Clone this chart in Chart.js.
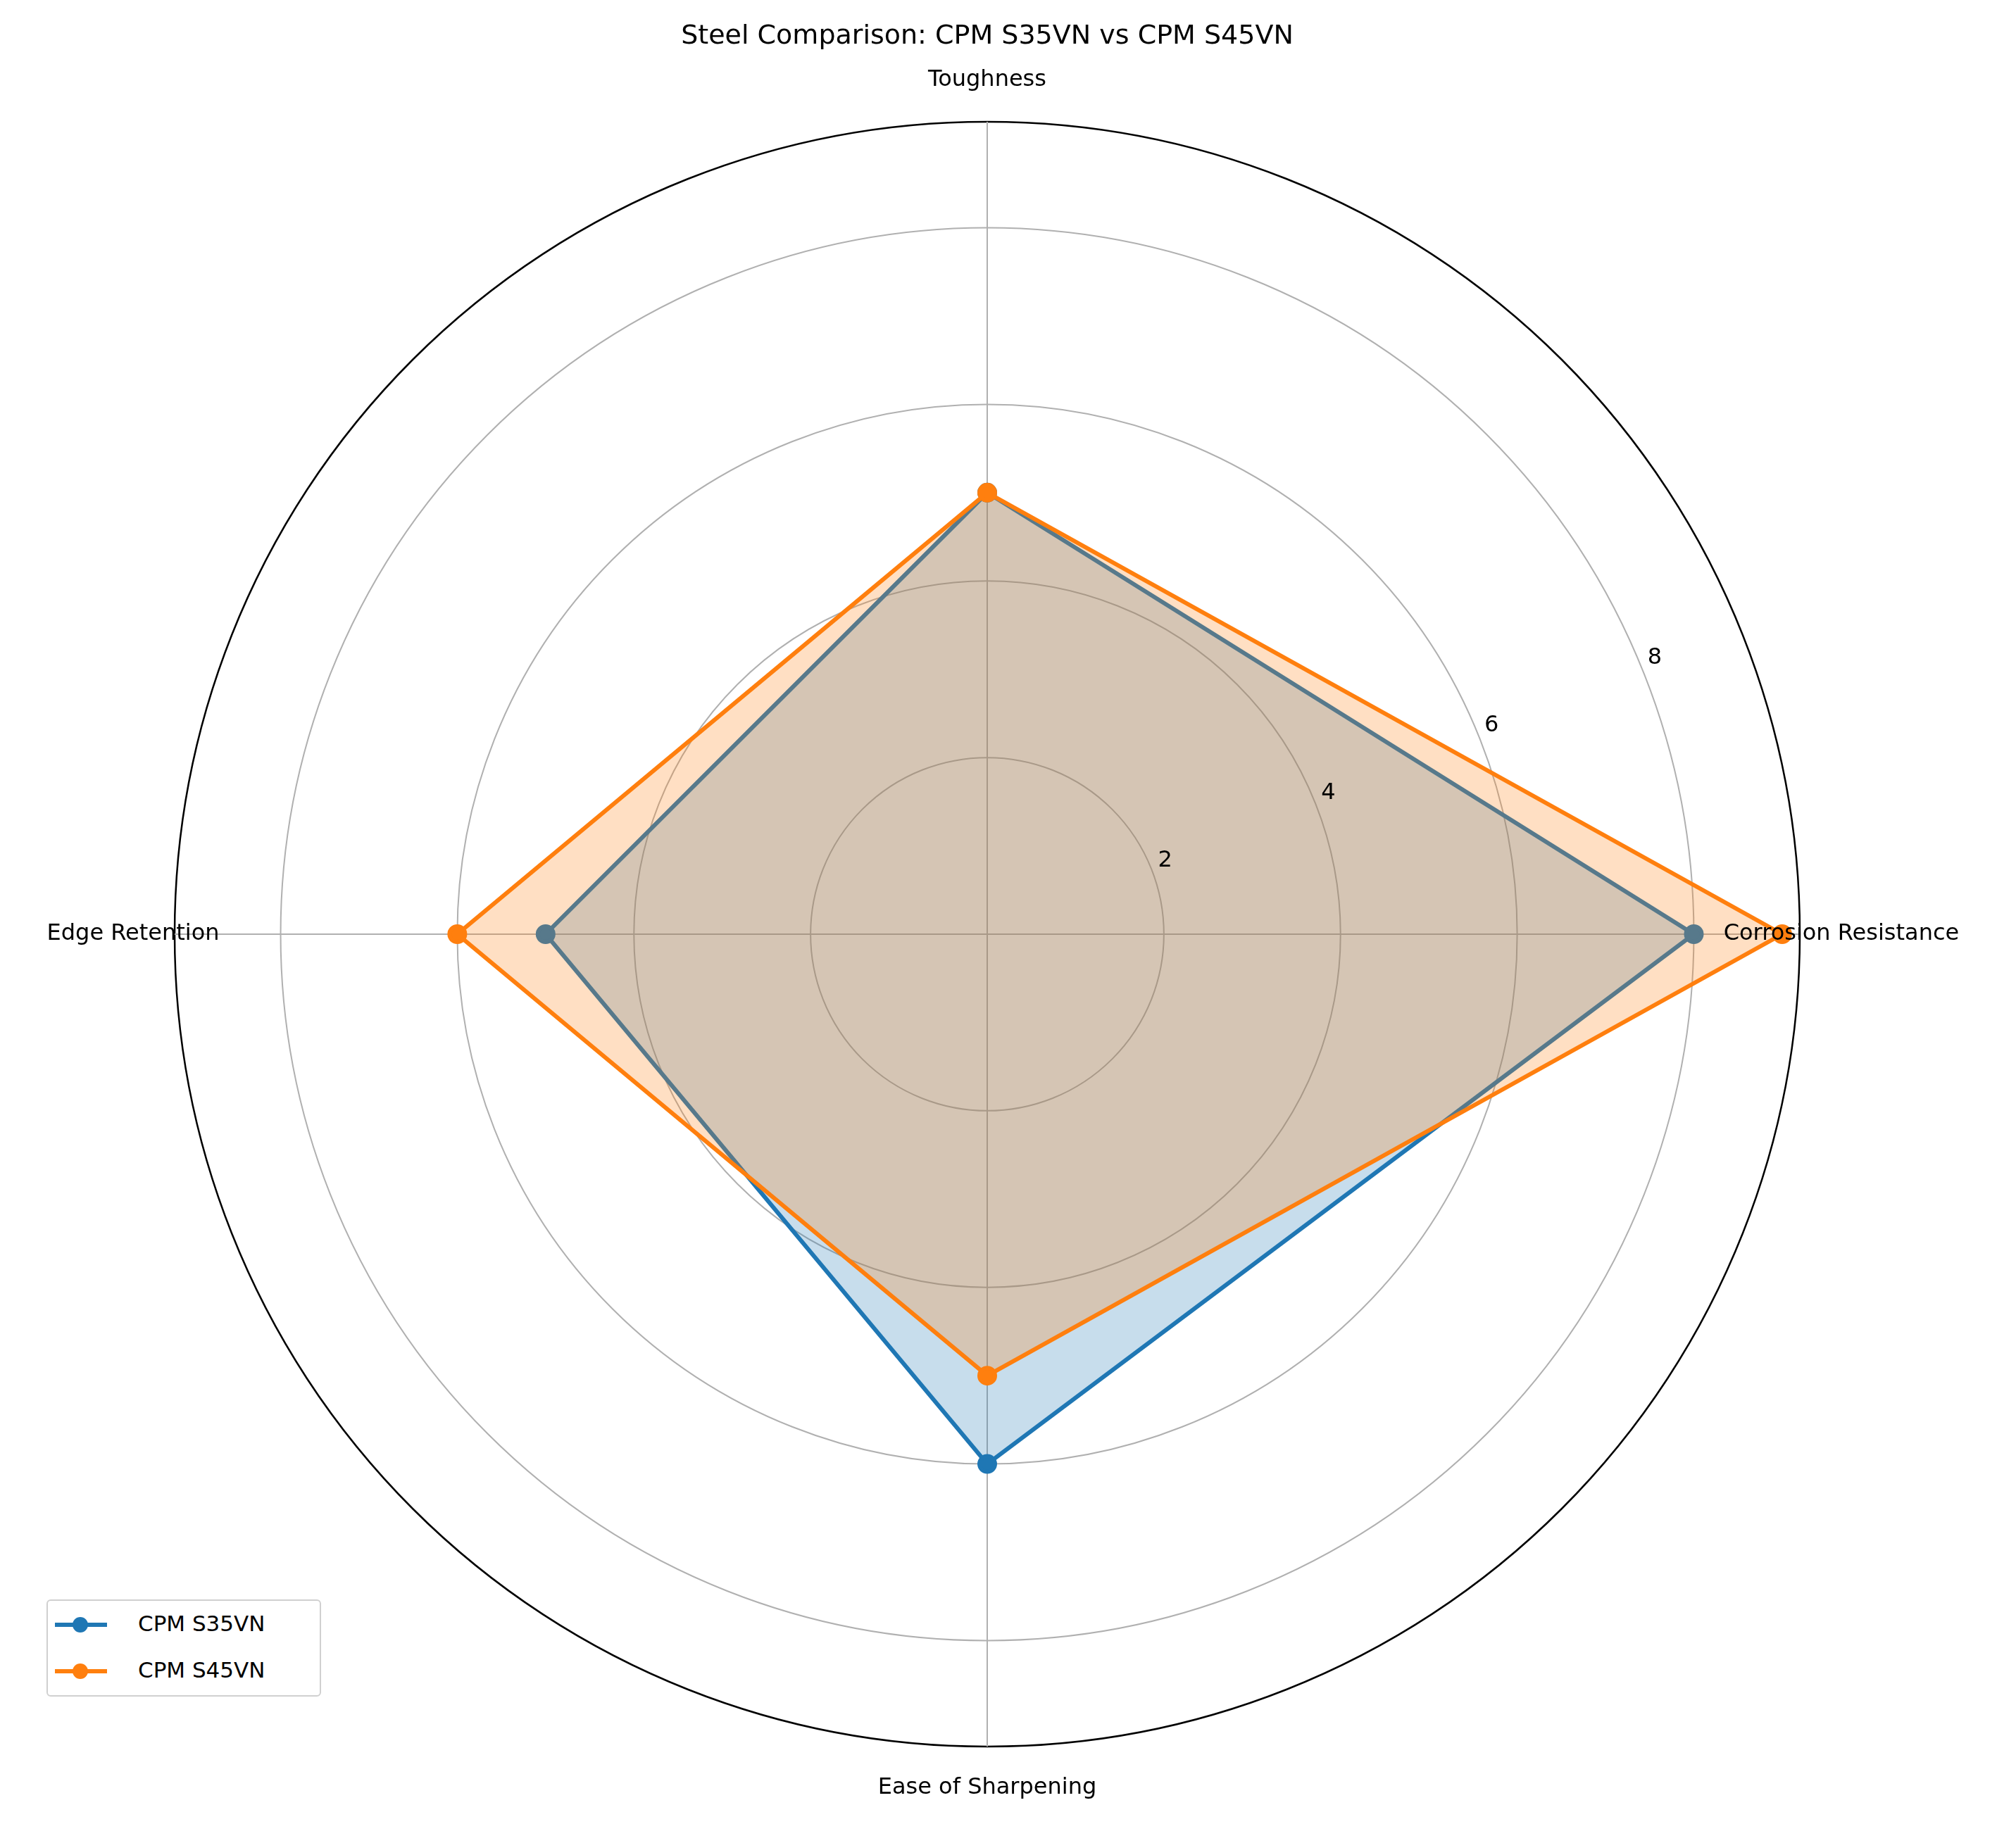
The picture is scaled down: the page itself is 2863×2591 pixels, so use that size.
<!DOCTYPE html>
<html>
<head>
<meta charset="utf-8">
<script src="https://cdn.jsdelivr.net/npm/chart.js@4"></script>
<style>
  body { margin: 0; background: #fff; font-family: "DejaVu Sans", sans-serif; }
  #wrap { position: relative; width: 2863px; height: 2591px; }
  #legend {
    position: absolute; left: 66px; top: 2272px; width: 390px; height: 138px;
    border: 2px solid #d0d0d0; border-radius: 6px; box-sizing: border-box; background: #fff;
  }
  .item { position: absolute; left: 0; height: 40px; font-size: 31px; color: #000; }
  .item .ln { position: absolute; left: 10px; top: 17px; width: 74px; height: 6px; }
  .item .dot { position: absolute; left: 35px; top: 9px; width: 22px; height: 22px; border-radius: 50%; }
  .item span { position: absolute; left: 128px; top: 0px; white-space: nowrap; }
</style>
</head>
<body>
<div id="wrap">
  <canvas id="c" width="2863" height="2591"></canvas>
  <div id="legend"></div>
</div>
<script>
// Chart.js order runs clockwise from the top
const categories = ['Toughness', 'Corrosion Resistance', 'Ease of Sharpening', 'Edge Retention'];
const s35vn = [5, 8, 6, 5];
const s45vn = [5, 9, 5, 6];
const tickValues = [2, 4, 6, 8];
const rMax = 9.2;

const blue = '#1f77b4';
const orange = '#ff7f0e';

// Category labels, tick labels and title drawn through the radial scale
const extras = {
  id: 'extras',
  afterDraw(chart) {
    const s = chart.scales.r;
    const ctx = chart.ctx;
    ctx.save();
    ctx.fillStyle = '#000';
    ctx.textAlign = 'center';
    ctx.textBaseline = 'middle';
    ctx.font = '32px "DejaVu Sans"';
    categories.forEach((lab, i) => {
      const p = s.getPointPositionForValue(i, 9.67);
      ctx.fillText(lab, p.x, p.y);
    });
    const a = 22.5 * Math.PI / 180;
    tickValues.forEach(v => {
      const d = s.getDistanceFromCenterForValue(v + 0.18);
      ctx.fillText(String(v), s.xCenter + d * Math.cos(a), s.yCenter - d * Math.sin(a));
    });
    ctx.font = '38px "DejaVu Sans"';
    ctx.fillText('Steel Comparison: CPM S35VN vs CPM S45VN', s.xCenter, 52);
    ctx.restore();
  }
};

new Chart(document.getElementById('c'), {
  type: 'radar',
  data: {
    labels: categories,
    datasets: [
      {
        label: 'CPM S35VN',
        data: s35vn,
        order: 1,
        borderColor: blue,
        backgroundColor: 'rgba(31,119,180,0.25)',
        pointBackgroundColor: blue,
        pointBorderColor: blue,
        borderWidth: 6,
        pointRadius: 11,
        fill: true,
      },
      {
        label: 'CPM S45VN',
        data: s45vn,
        order: 0,
        borderColor: orange,
        backgroundColor: 'rgba(255,127,14,0.25)',
        pointBackgroundColor: orange,
        pointBorderColor: orange,
        borderWidth: 6,
        pointRadius: 11,
        fill: true,
      }
    ]
  },
  options: {
    responsive: false,
    animation: false,
    layout: { padding: { left: 248, top: 173, right: 307, bottom: 110 } },
    plugins: { legend: { display: false }, tooltip: { enabled: false } },
    scales: {
      r: {
        min: 0,
        max: rMax,
        afterBuildTicks: (scale) => {
          scale.ticks = [0, ...tickValues, rMax].map(v => ({ value: v }));
        },
        ticks: { display: false },
        pointLabels: { display: false },
        angleLines: { color: '#b0b0b0', lineWidth: 2 },
        grid: {
          circular: true,
          color: (c) => c.tick && c.tick.value === rMax ? '#000' : '#b0b0b0',
          lineWidth: (c) => c.tick && c.tick.value === rMax ? 2.5 : 2,
        }
      }
    }
  },
  plugins: [extras]
});

// Legend
const legend = document.getElementById('legend');
[['CPM S35VN', blue], ['CPM S45VN', orange]].forEach(([name, col], i) => {
  const d = document.createElement('div');
  d.className = 'item';
  d.style.top = (14 + i * 66) + 'px';
  d.innerHTML = `<div class="ln" style="background:${col}"></div><div class="dot" style="background:${col}"></div><span>${name}</span>`;
  legend.appendChild(d);
});
</script>
</body>
</html>
